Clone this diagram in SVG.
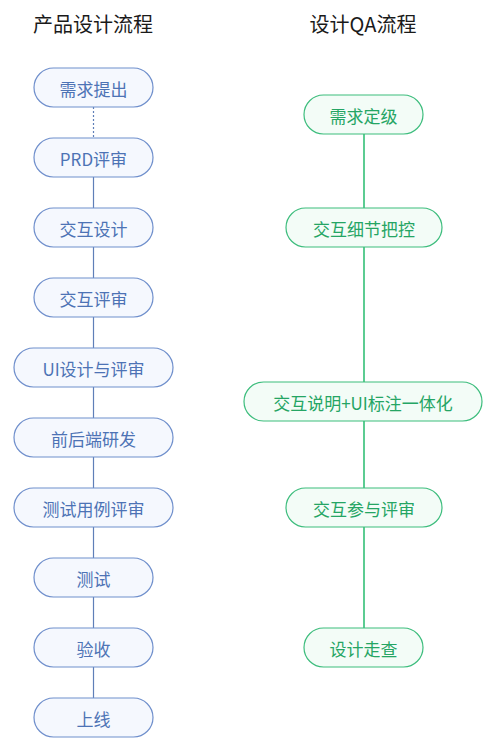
<svg xmlns="http://www.w3.org/2000/svg" width="494" height="749" viewBox="0 0 494 749">
<style>
text{font-family:"Noto Sans CJK SC","Liberation Sans",sans-serif;text-anchor:middle;dominant-baseline:central}
.title{font-size:20px;fill:#1a1a1a}
.b rect{fill:#f5f8fe;stroke:#6f8fcc;stroke-width:1.2}
.b text{fill:#4d73b5;font-size:17px}
.g rect{fill:#f3fcf7;stroke:#3dbd7d;stroke-width:1.2}
.g text{fill:#25a564;font-size:17px}
.lb{stroke:#5f7fb8;stroke-width:1.2;fill:none}
.lg{stroke:#5ccc92;stroke-width:2;fill:none}
</style>
<rect width="494" height="749" fill="#fff"/>
<text class="title" x="93" y="23">产品设计流程</text>
<text class="title" x="363" y="23">设计QA流程</text>
<g id="connectors">
<line class="lb" x1="93.5" y1="107" x2="93.5" y2="138" stroke-dasharray="2,2"/>
<line class="lb" x1="93.5" y1="177" x2="93.5" y2="698"/>
<line class="lg" x1="364" y1="134" x2="364" y2="628"/>
</g>
<g id="n1" class="b"><rect x="34" y="68" width="119" height="39" rx="19.5"/><text x="93.5" y="88">需求提出</text></g>
<g id="n2" class="b"><rect x="34" y="138" width="119" height="39" rx="19.5"/><text x="93.5" y="158">PRD评审</text></g>
<g id="n3" class="b"><rect x="34" y="208" width="119" height="39" rx="19.5"/><text x="93.5" y="228">交互设计</text></g>
<g id="n4" class="b"><rect x="34" y="278" width="119" height="39" rx="19.5"/><text x="93.5" y="298">交互评审</text></g>
<g id="n5" class="b"><rect x="14" y="348" width="159" height="39" rx="19.5"/><text x="93.5" y="368">UI设计与评审</text></g>
<g id="n6" class="b"><rect x="14" y="418" width="159" height="39" rx="19.5"/><text x="93.5" y="438">前后端研发</text></g>
<g id="n7" class="b"><rect x="14" y="488" width="159" height="39" rx="19.5"/><text x="93.5" y="508">测试用例评审</text></g>
<g id="n8" class="b"><rect x="34" y="558" width="119" height="39" rx="19.5"/><text x="93.5" y="578">测试</text></g>
<g id="n9" class="b"><rect x="34" y="628" width="119" height="39" rx="19.5"/><text x="93.5" y="648">验收</text></g>
<g id="n10" class="b"><rect x="34" y="698" width="119" height="39" rx="19.5"/><text x="93.5" y="718">上线</text></g>
<g id="q1" class="g"><rect x="304" y="95" width="119" height="39" rx="19.5"/><text x="363.5" y="115">需求定级</text></g>
<g id="q2" class="g"><rect x="286" y="208" width="156" height="39" rx="19.5"/><text x="364" y="228">交互细节把控</text></g>
<g id="q3" class="g"><rect x="244" y="382" width="238" height="39" rx="19.5"/><text x="363" y="402">交互说明+UI标注一体化</text></g>
<g id="q4" class="g"><rect x="286" y="488" width="156" height="39" rx="19.5"/><text x="364" y="508">交互参与评审</text></g>
<g id="q5" class="g"><rect x="304" y="628" width="119" height="39" rx="19.5"/><text x="363.5" y="648">设计走查</text></g>
</svg>
